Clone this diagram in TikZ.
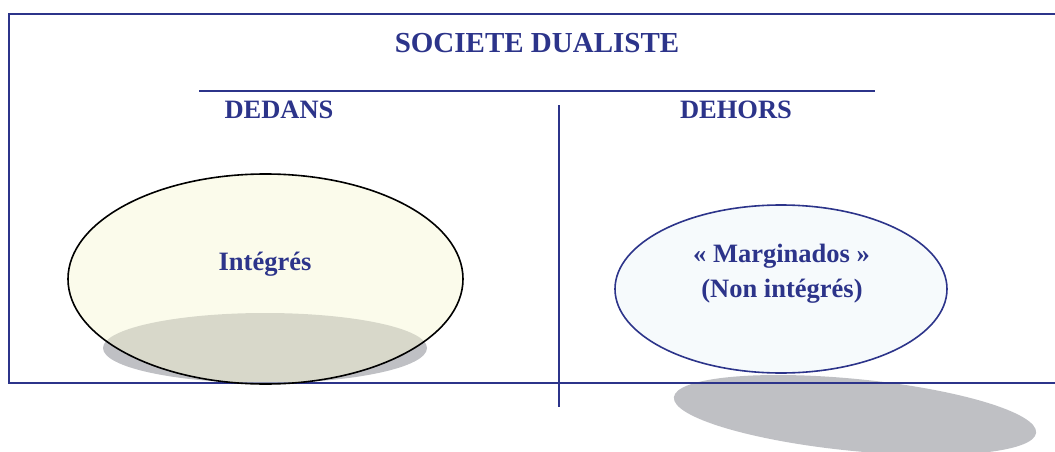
\documentclass[tikz,border=0pt]{standalone}
\usepackage{fontspec}
\setmainfont{Liberation Serif}
\usepackage{xcolor}
\usetikzlibrary{shapes.geometric,positioning}
\definecolor{navy}{RGB}{44,52,138}
\definecolor{shadowgray}{RGB}{191,192,196}
\definecolor{paleyellow}{RGB}{246,246,211}
\definecolor{paleblue}{RGB}{246,250,252}

\begin{document}
\begin{tikzpicture}[x=1pt,y=-1pt,
  heading/.style={text=navy,font=\bfseries\fontsize{26.5}{32}\selectfont,inner sep=0pt,anchor=base},
  blob/.style={ellipse,inner sep=0pt,line width=1.6pt},
  shade/.style={ellipse,inner sep=0pt,fill=shadowgray}]
\useasboundingbox (0,0) rectangle (1055,452);
% shadows
\node[shade,minimum width=324pt,minimum height=70pt] (leftshadow) at (265,348) {};
\node[shade,minimum width=364pt,minimum height=72pt,rotate=-5.6] (rightshadow) at (855,415) {};
% frame
\draw[navy,line width=2pt] (1070,14) -- (9,14) -- (9,383) -- (1070,383);
\draw[navy,line width=1.5pt] (559,105) -- (559,407);
\draw[navy,line width=2pt] (199,90.5) -- (875,90.5);
% titles
\node[heading,font=\bfseries\fontsize{29}{34}\selectfont] (title) at (537,53) {SOCIETE DUALISTE};
\node[heading] (dedans) at (279,118) {DEDANS};
\node[heading] (dehors) at (736,118) {DEHORS};
% ellipses
\node[blob,draw=black,fill=paleyellow,fill opacity=0.46,minimum width=395pt,minimum height=210pt] (integres) at (265.5,279) {};
\node[blob,draw=navy,fill=paleblue,minimum width=332pt,minimum height=168pt] (marginados) at (781,289) {};
\node[heading] (intlabel) at (265,270) {Intégrés};
\node[heading] (margtop) at (781.5,262) {« Marginados »};
\node[heading] (margbot) at (782,297) {(Non intégrés)};
\end{tikzpicture}
\end{document}
